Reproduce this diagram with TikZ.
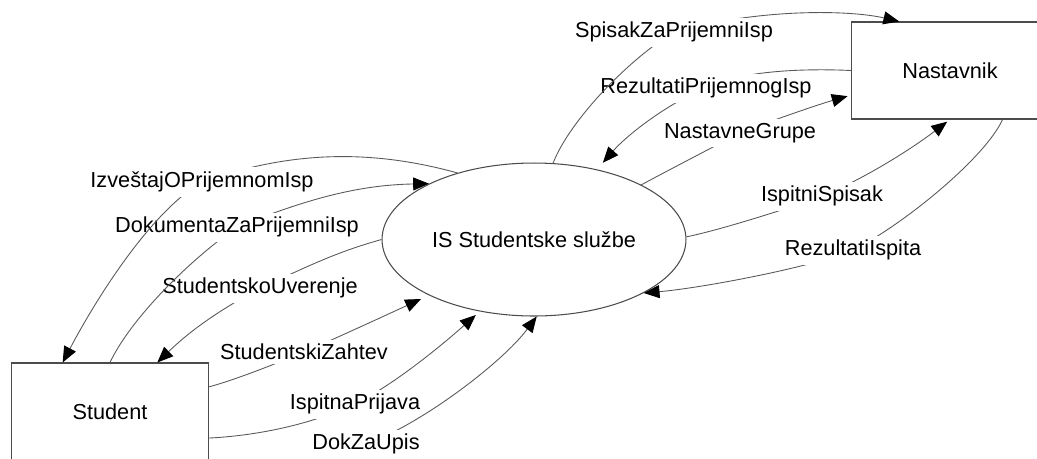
\documentclass[tikz,border=0pt]{standalone}
\usepackage{fontspec}
\setmainfont{Liberation Sans}
\usetikzlibrary{arrows.meta,shapes.geometric}
\begin{document}
\begin{tikzpicture}[x=0.02cm,y=-0.02cm,
  font=\fontsize{12.35pt}{14pt}\selectfont,
  entity/.style={draw=black!70, line width=0.6pt, fill=white,
    minimum width=3.94cm, minimum height=1.94cm, inner sep=0pt},
  process/.style={ellipse, draw=black!70, line width=0.6pt, fill=white,
    minimum width=6.08cm, minimum height=3.06cm, inner sep=0pt},
  flow/.style={draw=black!65, line width=0.5pt,
    -{Triangle[length=9pt,width=7.4pt,black]}},
  flowlabel/.style={fill=white, inner xsep=4pt, inner ysep=2.5pt}
]
\useasboundingbox (0,0) rectangle (1037,458);
\clip (0,0) rectangle (1037,458);

% process and external entities
\node[process] (e) at (534,239.5) {IS Studentske službe};
\node[entity] (s) at (110,411.5) {Student};
\node[entity] (n) at (950,70.5) {Nastavnik};

% label positions on the data flows
\coordinate (lA) at (202,182);
\coordinate (lB) at (237,227);
\coordinate (lC) at (260,288);
\coordinate (lD) at (304,352);
\coordinate (lE) at (355,404);
\coordinate (lF) at (366,444);
\coordinate (lG) at (822,196);
\coordinate (lH) at (853,250);
\coordinate (lI) at (740,133);
\coordinate (lJ) at (706,88);
\coordinate (lK) at (674,32);

% flows between Student and the process
\draw[flow] (e.180) .. controls (333,253) and (305,268) .. (lC)
  .. controls (220,310) and (192,329) .. (s.46);
\node[flowlabel] (tC) at (lC) {StudentskoUverenje};

\draw[flow] (s.north) .. controls (130,320) and (187,262) .. (lB)
  .. controls (307,199) and (358,185) .. (e.152);
\node[flowlabel] (tB) at (lB) {DokumentaZaPrijemniIsp};

\draw[flow] (e.139) .. controls (367,148) and (287,152) .. (lA)
  .. controls (150,212) and (95,301) .. (s.134);
\node[flowlabel] (tA) at (lA) {IzveštajOPrijemnomIsp};

\draw[flow, shorten >=5pt] (s.14) .. controls (235,380) and (280,362) .. (lD)
  .. controls (330,341) and (395,311) .. (e.208);
\node[flowlabel] (tD) at (lD) {StudentskiZahtev};

\draw[flow, shorten >=3pt] (s.345) .. controls (250,436) and (305,427) .. (lE)
  .. controls (395,384) and (442,345) .. (e.233);
\node[flowlabel] (tE) at (lE) {IspitnaPrijava};

\draw[flow] (s.south east) .. controls (260,475) and (320,465) .. (lF)
  .. controls (420,425) and (502,363) .. (e.272);
\node[flowlabel] (tF) at (lF) {DokZaUpis};

% flows between the process and Nastavnik
\draw[flow, shorten >=2pt] (e.1) .. controls (720,230) and (790,208) .. (lG)
  .. controls (862,180) and (910,150) .. (n.south);
\node[flowlabel] (tG) at (lG) {IspitniSpisak};

\draw[flow] (n.317) .. controls (985,158) and (903,225) .. (lH)
  .. controls (813,267) and (702,288) .. (e.334);
\node[flowlabel] (tH) at (lH) {RezultatiIspita};

\draw[flow, shorten >=2pt] (e.27) .. controls (665,172) and (715,146) .. (lI)
  .. controls (770,121) and (820,104) .. (n.194);
\node[flowlabel] (tI) at (lI) {NastavneGrupe};

\draw[flow, shorten >=5pt] (n.west) .. controls (820,69) and (745,68) .. (lJ)
  .. controls (668,103) and (627,135) .. (e.48);
\node[flowlabel] (tJ) at (lJ) {RezultatiPrijemnogIsp};

\draw[flow] (e.76) .. controls (570,120) and (629,59) .. (lK)
  .. controls (760,8) and (850,10) .. (n.136);
\node[flowlabel] (tK) at (lK) {SpisakZaPrijemniIsp};
\end{tikzpicture}
\end{document}
